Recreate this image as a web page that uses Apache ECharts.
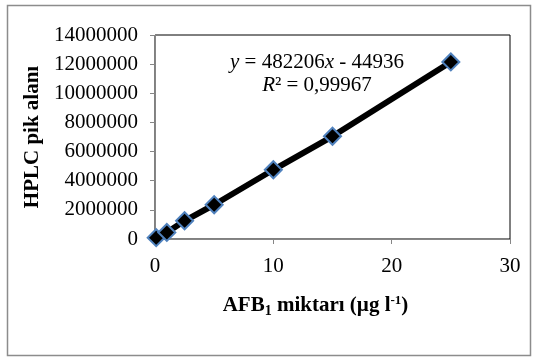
<!DOCTYPE html>
<html>
<head>
<meta charset="utf-8">
<script src="https://cdn.jsdelivr.net/npm/echarts@6/dist/echarts.min.js"></script>
<style>
  html, body { margin: 0; padding: 0; background: #fff; }
  #chart { width: 536px; height: 360px; }
</style>
</head>
<body>
<div id="chart"></div>
<script>
// AFB1 kalibrasyon verileri
const miktar = [0.1, 1, 2.5, 5, 10, 15, 25]
const pikAlani = [90000, 450000, 1250000, 2350000, 4750000, 7050000, 12150000]
const yTicks = [0, 2000000, 4000000, 6000000, 8000000, 10000000, 12000000, 14000000]
const xTicks = [0, 10, 20, 30]

const serif = '"Liberation Serif", "Times New Roman", serif'
const chart = echarts.init(document.getElementById('chart'))

chart.setOption({
	animation: false,
	graphic: [
		{
			type: 'rect',
			shape: { x: 7.5, y: 5.5, width: 523, height: 350 },
			style: { fill: 'none', stroke: '#8c8c8c', lineWidth: 1.5 },
		},
		{
			type: 'text',
			x: 317,
			y: 74,
			style: {
				text: '{i|y} = 482206{i|x} - 44936\n{i|R}² = 0,99967',
				font: '21px ' + serif,
				fill: '#000',
				align: 'center',
				verticalAlign: 'middle',
				lineHeight: 23,
				rich: { i: { fontStyle: 'italic', fontSize: 21, fontFamily: serif } },
			},
		},
	],
	grid: { left: 155, right: 26, top: 35, bottom: 121, show: true, borderColor: '#000', borderWidth: 1 },
	xAxis: {
		type: 'value',
		min: 0,
		max: 30,
		interval: 10,
		splitLine: { show: false },
		axisLine: { lineStyle: { color: '#868686' } },
		axisTick: { show: true, length: 5, lineStyle: { color: '#868686' } },
		axisLabel: { color: '#000', fontFamily: serif, fontSize: 21, margin: 17,
			formatter: v => xTicks.includes(v) ? String(v) : '' },
		name: '{b|AFB}{s|1}{b| miktarı (µg l}{p|-1}{b|)}',
		nameLocation: 'middle',
		nameGap: 55,
		nameTextStyle: {
			padding: [0, 34, 0, 0],
			rich: {
				b: { fontFamily: serif, fontSize: 21, fontWeight: 'bold', color: '#000' },
				s: { fontFamily: serif, fontSize: 14, fontWeight: 'bold', color: '#000', verticalAlign: 'bottom', padding: [10, 0, 0, 0] },
				p: { fontFamily: serif, fontSize: 13, fontWeight: 'bold', color: '#000', verticalAlign: 'top', padding: [0, 0, 10, 0] },
			},
		},
	},
	yAxis: {
		type: 'value',
		min: 0,
		max: 14000000,
		interval: 2000000,
		splitLine: { show: false },
		axisLine: { show: true, lineStyle: { color: '#868686' } },
		axisTick: { show: true, length: 5, lineStyle: { color: '#868686' } },
		axisLabel: { color: '#000', fontFamily: serif, fontSize: 21, margin: 17,
			formatter: v => yTicks.includes(v) ? String(v) : '' },
		name: 'HPLC pik alanı',
		nameLocation: 'middle',
		nameGap: 111,
		nameTextStyle: { fontFamily: serif, fontSize: 21, fontWeight: 'bold', color: '#000' },
	},
	series: [
		{
			type: 'line',
			data: miktar.map((x, i) => [x, pikAlani[i]]),
			symbol: 'diamond',
			symbolSize: 17,
			lineStyle: { color: '#000', width: 6 },
			itemStyle: { color: '#000', borderColor: '#4f81bd', borderWidth: 2 },
		},
	],
})
</script>
</body>
</html>
